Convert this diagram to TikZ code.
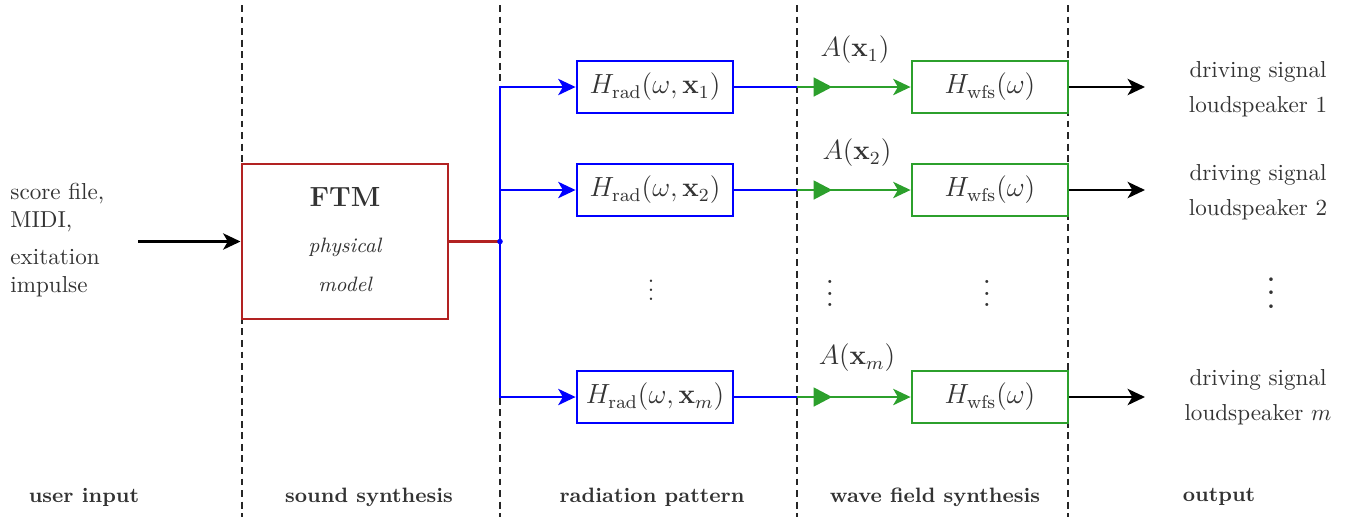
\documentclass[tikz,border=0pt]{standalone}
\usetikzlibrary{arrows.meta,decorations.markings}
\definecolor{ftmred}{RGB}{178,34,34}
\definecolor{wfsgreen}{RGB}{44,160,44}
\definecolor{txt}{RGB}{51,51,51}
\begin{document}
\begin{tikzpicture}[x=0.4329pt,y=-0.4329pt,
  every node/.style={text=txt},
  radbox/.style={draw=blue, line width=1.25pt, minimum width=67.5pt, minimum height=22.5pt, inner sep=0pt, font=\large},
  wfsbox/.style={draw=wfsgreen, line width=1.25pt, minimum width=67.5pt, minimum height=22.5pt, inner sep=0pt, font=\large},
  ftmbox/.style={draw=ftmred, line width=1.25pt, minimum width=89.2pt, minimum height=67.1pt, inner sep=0pt},
  sepline/.style={densely dashed, line width=0.5pt, black!85},
  conn/.style={line width=1.25pt},
  arrowline/.style={conn, -{Stealth[length=7.5pt,width=7pt,inset=2pt]}},
  midtri/.style={postaction={decorate}, decoration={markings,
      mark=at position 0.31 with {\arrow{Triangle[length=8pt,width=8pt]}}}},
  gainlabel/.style={font=\large},
  steplabel/.style={font=\small\bfseries},
]
\useasboundingbox (0,0) rectangle (1350,517);

% column separators
\draw[sepline] (242,5) -- (242,517);
\draw[sepline] (500,5) -- (500,517);
\draw[sepline] (797,5) -- (797,517);
\draw[sepline] (1068,5) -- (1068,517);

% user input
\node[anchor=west, align=left, inner sep=0pt] (input) at (10,240)
  {score file,\\MIDI,\\[4pt]exitation\\impulse};
\coordinate (inStart) at (138,241.5);

% sound synthesis
\node[ftmbox, fill=white] (ftm) at (345,241.5) {};
\node (ftmTitle) at (345,197) {\large\bfseries FTM};
\node (ftmSub1) at (345,247) {\itshape\small physical};
\node (ftmSub2) at (345,284) {\itshape\small model};
\draw[arrowline, black] (inStart) -- (ftm.west);

% branching point
\coordinate (j) at (500,241.5);
\draw[conn, ftmred] (ftm.east) -- (j);

% radiation pattern filters
\node[radbox] (hr1) at (655,87) {$H_{\mathrm{rad}}(\omega,\mathbf{x}_1)$};
\node[radbox] (hr2) at (655,190) {$H_{\mathrm{rad}}(\omega,\mathbf{x}_2)$};
\node[radbox] (hrm) at (655,397) {$H_{\mathrm{rad}}(\omega,\mathbf{x}_m)$};
\draw[arrowline, blue] (j) |- (hr1.west);
\draw[arrowline, blue] (j) |- (hr2.west);
\draw[arrowline, blue] (j) |- (hrm.west);
\fill[blue] (j) circle (1.2pt);

% wave field synthesis filters
\node[wfsbox] (hw1) at (990,87) {$H_{\mathrm{wfs}}(\omega)$};
\node[wfsbox] (hw2) at (990,190) {$H_{\mathrm{wfs}}(\omega)$};
\node[wfsbox] (hwm) at (990,397) {$H_{\mathrm{wfs}}(\omega)$};

\coordinate (g1) at (797,87);
\coordinate (g2) at (797,190);
\coordinate (gm) at (797,397);
\draw[conn, blue] (hr1.east) -- (g1);
\draw[conn, blue] (hr2.east) -- (g2);
\draw[conn, blue] (hrm.east) -- (gm);
\draw[arrowline, wfsgreen, midtri] (g1) -- (hw1.west);
\draw[arrowline, wfsgreen, midtri] (g2) -- (hw2.west);
\draw[arrowline, wfsgreen, midtri] (gm) -- (hwm.west);
\node[gainlabel] (a1) at (855,50) {$A(\mathbf{x}_1)$};
\node[gainlabel] (a2) at (857,153) {$A(\mathbf{x}_2)$};
\node[gainlabel] (am) at (857,358) {$A(\mathbf{x}_m)$};

% outputs
\coordinate (o1) at (1145,87);
\coordinate (o2) at (1145,190);
\coordinate (om) at (1145,397);
\draw[arrowline, black] (hw1.east) -- (o1);
\draw[arrowline, black] (hw2.east) -- (o2);
\draw[arrowline, black] (hwm.east) -- (om);
\node[align=center] (out1) at (1258,89) {driving signal\\[3pt]loudspeaker 1};
\node[align=center] (out2) at (1258,192) {driving signal\\[3pt]loudspeaker 2};
\node[align=center] (outm) at (1258,397) {driving signal\\[3pt]loudspeaker $m$};

% omitted channels
\node (d1) at (651,283.5) {$\vdots$};
\node[scale=1.26] (d2) at (830,285) {$\vdots$};
\node[scale=1.26] (d3) at (987,285) {$\vdots$};
\node[scale=1.47] (d4) at (1271,283) {$\vdots$};

% stage labels
\node[steplabel] (l1) at (84,497) {user input};
\node[steplabel] (l2) at (369,497) {sound synthesis};
\node[steplabel] (l3) at (652,497) {radiation pattern};
\node[steplabel] (l4) at (935,497) {wave field synthesis};
\node[steplabel] (l5) at (1219,497) {output};
\end{tikzpicture}
\end{document}
